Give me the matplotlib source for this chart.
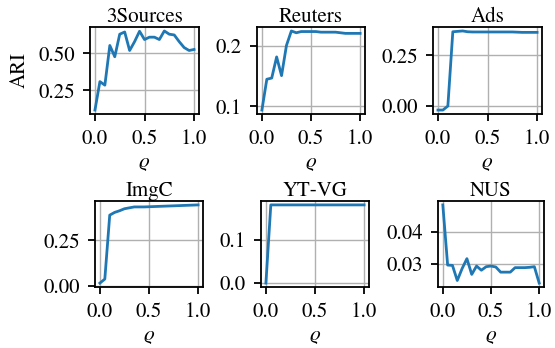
import matplotlib
matplotlib.use('Agg')
import matplotlib.pyplot as plt
import numpy as np

plt.rcParams['font.family'] = 'STIXGeneral'
plt.rcParams['mathtext.fontset'] = 'stix'
plt.rcParams['font.size'] = 15

# rho values 0.0 .. 1.0 step 0.05
rho = [0.0, 0.05, 0.1, 0.15, 0.2, 0.25, 0.3, 0.35, 0.4, 0.45, 0.5,
       0.55, 0.6, 0.65, 0.7, 0.75, 0.8, 0.85, 0.9, 0.95, 1.0]

titles = ['3Sources', 'Reuters', 'Ads', 'ImgC', 'YT-VG', 'NUS']

ari_3sources = [0.118, 0.31, 0.286, 0.554, 0.478, 0.63, 0.645, 0.52, 0.58, 0.65, 0.594,
                0.61, 0.61, 0.594, 0.652, 0.63, 0.625, 0.58, 0.54, 0.52, 0.527]
ari_reuters = [0.094, 0.145, 0.147, 0.182, 0.151, 0.201, 0.225, 0.222, 0.224, 0.224, 0.224,
               0.224, 0.223, 0.223, 0.223, 0.223, 0.222, 0.221, 0.221, 0.221, 0.221]
ari_ads = [-0.022, -0.022, -0.002, 0.368, 0.37, 0.372, 0.368, 0.367, 0.367, 0.367, 0.367,
           0.367, 0.367, 0.367, 0.367, 0.367, 0.366, 0.365, 0.365, 0.365, 0.365]
ari_imgc = [0.016, 0.038, 0.388, 0.403, 0.412, 0.423, 0.428, 0.433, 0.433, 0.433, 0.434,
            0.435, 0.436, 0.437, 0.438, 0.439, 0.44, 0.441, 0.442, 0.443, 0.444]
ari_ytvg = [0.0, 0.181, 0.181, 0.181, 0.181, 0.181, 0.181, 0.181, 0.181, 0.181, 0.181,
            0.181, 0.181, 0.181, 0.181, 0.181, 0.181, 0.181, 0.181, 0.181, 0.181]
ari_nus = [0.0483, 0.0296, 0.0295, 0.0248, 0.0285, 0.0316, 0.0267, 0.0293, 0.028, 0.0291, 0.0293,
           0.029, 0.0274, 0.0274, 0.0274, 0.0288, 0.0288, 0.0288, 0.0289, 0.0291, 0.024]

series = [ari_3sources, ari_reuters, ari_ads, ari_imgc, ari_ytvg, ari_nus]
yticks = [[0.25, 0.50], [0.1, 0.2], [0.00, 0.25], [0.00, 0.25], [0.0, 0.1], [0.03, 0.04]]

# axes boxes in pixels (left, top, right, bottom)
W, H = 555, 348
boxes = [(90, 27, 199, 114), (257, 27, 365, 114), (433, 27, 542, 114),
         (95, 201, 203, 287), (261, 201, 369, 287), (438, 201, 544, 287)]

fig = plt.figure(figsize=(W / 100, H / 100), dpi=100)
for i, (l, t, r, b) in enumerate(boxes):
    ax = fig.add_axes([l / W, 1 - b / H, (r - l) / W, (b - t) / H])
    ax.plot(rho, series[i], color='tab:blue', lw=2.0)
    ax.set_title(titles[i], fontsize=15, pad=3)
    ax.set_xticks([0.0, 0.5, 1.0])
    ax.set_yticks(yticks[i])
    ax.set_xlabel(r'$\varrho$', fontsize=15, labelpad=3)
    ax.grid(True, color='#b0b0b0', lw=1.0)
    ax.tick_params(labelsize=15, length=5, width=1.3, pad=6)
    for s in ax.spines.values():
        s.set_linewidth(1.3)
    if i == 0:
        ax.set_ylabel('ARI', fontsize=15, labelpad=6)

fig.savefig('out.png', dpi=100)
